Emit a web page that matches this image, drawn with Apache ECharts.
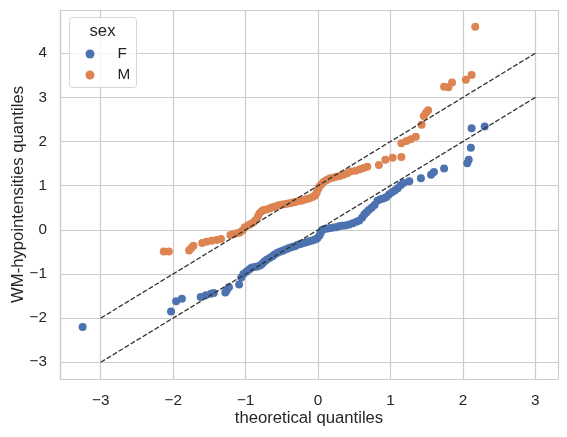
<!DOCTYPE html>
<html>
<head>
<meta charset="utf-8">
<script src="https://cdn.jsdelivr.net/npm/echarts@6/dist/echarts.min.js"></script>
<style>html,body{margin:0;padding:0;background:#fff}#c{width:567px;height:437px}</style>
</head>
<body>
<div id="c"></div>
<script>
// [theoretical quantile, sample quantile]
var fPoints = [
[-3.25,-2.20],[-2.03,-1.85],[-1.96,-1.62],[-1.88,-1.56],[-1.62,-1.52],[-1.55,-1.48],[-1.48,-1.45],
[-1.44,-1.43],[-1.28,-1.42],[-1.26,-1.37],[-1.23,-1.30],[-1.09,-1.24],[-1.06,-1.08],[-1.03,-1.00],
[-0.99,-0.95],[-0.95,-0.90],[-0.92,-0.86],[-0.88,-0.84],[-0.84,-0.83],[-0.80,-0.81],[-0.77,-0.77],
[-0.74,-0.72],[-0.71,-0.68],[-0.67,-0.64],[-0.63,-0.60],[-0.60,-0.56],[-0.56,-0.52],[-0.52,-0.49],
[-0.48,-0.47],[-0.44,-0.44],[-0.40,-0.41],[-0.36,-0.39],[-0.32,-0.37],[-0.28,-0.34],[-0.24,-0.32],
[-0.20,-0.30],[-0.16,-0.28],[-0.12,-0.26],[-0.08,-0.24],[-0.04,-0.22],[-0.01,-0.19],[0.02,-0.13],
[0.04,-0.06],[0.06,0.00],[0.09,0.02],[0.13,0.03],[0.17,0.04],[0.21,0.05],[0.25,0.06],[0.29,0.08],
[0.33,0.09],[0.38,0.10],[0.43,0.12],[0.48,0.15],[0.53,0.18],[0.57,0.21],[0.61,0.28],[0.64,0.35],
[0.67,0.40],[0.70,0.45],[0.74,0.50],[0.78,0.56],[0.82,0.66],[0.86,0.69],[0.90,0.71],[0.94,0.74],
[0.98,0.80],[1.02,0.85],[1.06,0.89],[1.10,0.94],[1.14,1.01],[1.18,1.06],[1.26,1.10],[1.42,1.17],
[1.56,1.25],[1.60,1.31],[1.74,1.39],[2.06,1.51],[2.08,1.59],[2.11,1.86],[2.12,2.30],[2.30,2.34]
];
var mPoints = [
[-2.13,-0.49],[-2.06,-0.49],[-1.78,-0.47],[-1.75,-0.41],[-1.72,-0.36],[-1.60,-0.30],[-1.54,-0.27],
[-1.47,-0.25],[-1.40,-0.23],[-1.34,-0.21],[-1.21,-0.12],[-1.17,-0.10],[-1.12,-0.08],[-1.08,-0.06],
[-1.04,-0.01],[-1.01,0.06],[-0.97,0.10],[-0.93,0.13],[-0.89,0.17],[-0.86,0.22],[-0.83,0.30],
[-0.81,0.37],[-0.78,0.42],[-0.75,0.45],[-0.71,0.46],[-0.67,0.48],[-0.63,0.51],[-0.59,0.53],
[-0.55,0.55],[-0.51,0.57],[-0.47,0.58],[-0.43,0.59],[-0.39,0.60],[-0.35,0.62],[-0.31,0.63],
[-0.27,0.65],[-0.23,0.66],[-0.19,0.68],[-0.15,0.70],[-0.11,0.72],[-0.07,0.75],[-0.04,0.78],
[-0.02,0.84],[0.00,0.92],[0.02,0.98],[0.05,1.04],[0.08,1.09],[0.12,1.13],[0.16,1.16],[0.20,1.18],
[0.25,1.20],[0.30,1.22],[0.35,1.25],[0.40,1.28],[0.45,1.32],[0.52,1.34],[0.58,1.37],[0.63,1.40],
[0.68,1.43],[0.84,1.47],[0.93,1.59],[1.03,1.63],[1.15,1.65],[1.15,1.96],[1.22,2.01],[1.28,2.05],
[1.35,2.11],[1.43,2.38],[1.46,2.58],[1.49,2.65],[1.52,2.71],[1.74,3.24],[1.80,3.23],[1.85,3.34],
[2.04,3.40],[2.12,3.51],[2.17,4.60]
];
var fLine = [[-3,-3],[3,3]];
var mLine = [[-3,-2],[3,4]];
var seriesNames = ['F','M'];
var legendTitle = 'sex';
var xName = 'theoretical quantiles';
var yName = 'WM-hypointensities quantiles';

var FONT = '"Liberation Sans", Arial, "DejaVu Sans", sans-serif';
var TXT = '#262626';
function fmt(v){ if (Math.abs(v - Math.round(v)) > 1e-9) return ''; var r = Math.round(v); return r < 0 ? '\u2212' + Math.abs(r) : String(r); }

var chart = echarts.init(document.getElementById('c'), null, {renderer:'canvas'});
chart.setOption({
  animation: false,
  backgroundColor: '#ffffff',
  grid: {left: 60, top: 10, right: 9, bottom: 58, containLabel: false, outerBoundsMode: 'none'},
  xAxis: {
    type: 'value', min: -3.5625, max: 3.3125, splitNumber: 7,
    name: xName, nameLocation: 'middle', nameGap: 31, nameMoveOverlap: false,
    nameTextStyle: {color: TXT, fontFamily: FONT, fontSize: 16.7},
    axisLine: {show: true, onZero: false, lineStyle: {color: '#cccccc', width: 1.2}},
    axisTick: {show: false},
    axisLabel: {formatter: fmt, color: TXT, fontFamily: FONT, fontSize: 15.3, margin: 14, showMinLabel: false, showMaxLabel: false},
    splitLine: {show: true, lineStyle: {color: '#cccccc', width: 1.2}}
  },
  yAxis: {
    type: 'value', min: -3.38, max: 4.98, splitNumber: 8,
    name: yName, nameLocation: 'middle', nameGap: 33, nameMoveOverlap: false,
    nameTextStyle: {color: TXT, fontFamily: FONT, fontSize: 16.7},
    axisLine: {show: true, onZero: false, lineStyle: {color: '#cccccc', width: 1.2}},
    axisTick: {show: false},
    axisLabel: {formatter: fmt, color: TXT, fontFamily: FONT, fontSize: 15.3, margin: 13, showMinLabel: false, showMaxLabel: false},
    splitLine: {show: true, lineStyle: {color: '#cccccc', width: 1.2}}
  },
  legend: {
    data: seriesNames, orient: 'vertical', left: 85.5, top: 46.5, itemGap: 6, padding: 0,
    icon: 'circle', itemWidth: 9, itemHeight: 9,
    textStyle: {color: TXT, fontFamily: FONT, fontSize: 15.3, lineHeight: 9, padding: [0, 0, 0, 18]}
  },
  graphic: [
    {type: 'rect', z: 3, shape: {x: 69.5, y: 17.5, width: 67, height: 70, r: 3},
     style: {fill: 'rgba(255,255,255,0.8)', stroke: '#d6d6d6', lineWidth: 1}},
    {type: 'text', z: 5, style: {x: 102.5, y: 31.5, text: legendTitle, textAlign: 'center', textVerticalAlign: 'middle',
     fill: TXT, font: '16.7px ' + FONT}}
  ],
  series: [
    {name: 'refF', type: 'line', data: fLine, symbol: 'none', silent: true, z: 3,
     lineStyle: {color: '#333333', width: 1.3, type: [5, 2]}},
    {name: 'refM', type: 'line', data: mLine, symbol: 'none', silent: true, z: 3,
     lineStyle: {color: '#333333', width: 1.3, type: [5, 2]}},
    {name: seriesNames[0], type: 'scatter', data: fPoints, symbolSize: 8, z: 2,
     itemStyle: {color: '#4c72b0', opacity: 1}},
    {name: seriesNames[1], type: 'scatter', data: mPoints, symbolSize: 8, z: 2,
     itemStyle: {color: '#dd8452', opacity: 1}}
  ]
});
</script>
</body>
</html>
